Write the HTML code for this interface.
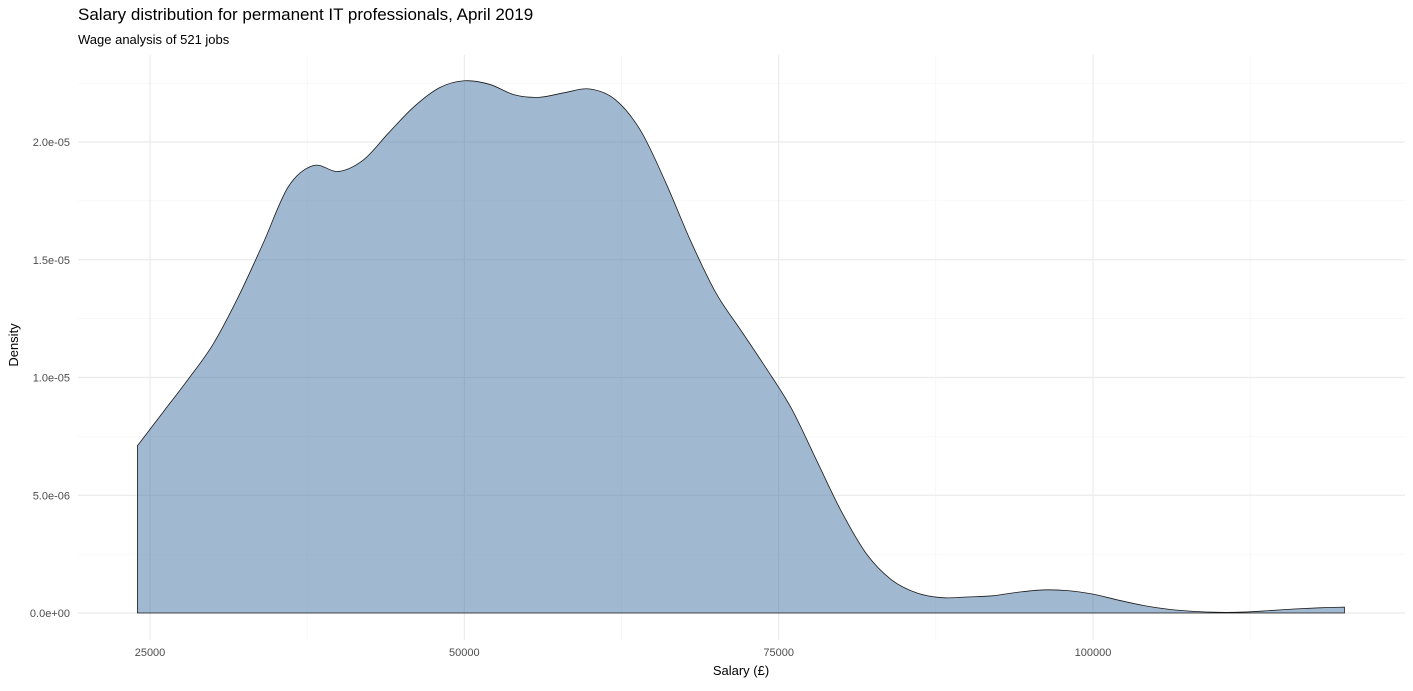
<!DOCTYPE html>
<html><head><meta charset="utf-8"><style>
body{margin:0;background:#fff;font-family:"Liberation Sans",sans-serif}
svg text{font-family:"Liberation Sans",sans-serif}
</style></head><body>
<svg id="chart" width="1413" height="686" viewBox="0 0 1413 686">
<rect width="1413" height="686" fill="#fff"/>
<text x="78" y="20" font-size="17" fill="#000">Salary distribution for permanent IT professionals, April 2019</text>
<text x="78" y="44" font-size="13" fill="#000">Wage analysis of 521 jobs</text>
<g id="grid"></g>
<g id="marks"></g>
<g id="axes"></g>
<text x="741" y="675" font-size="13" text-anchor="middle">Salary (£)</text>
<text transform="translate(18,345) rotate(-90)" font-size="13" text-anchor="middle">Density</text>
</svg>
<script>
const salaries=[24000,26000,28000,30000,32000,34000,36000,38000,40000,42000,44000,46000,48000,50000,52000,54000,56000,58000,60000,62000,64000,66000,68000,70000,72000,74000,76000,78000,80000,82000,84000,86000,88000,90000,92000,94000,96000,98000,100000,102000,104000,106000,108000,110000,112000,114000,116000,118000,120000];
const density=[0.71,0.85,0.99,1.14,1.34,1.57,1.81,1.90,1.875,1.925,2.04,2.15,2.23,2.26,2.245,2.20,2.19,2.21,2.225,2.18,2.05,1.83,1.58,1.36,1.20,1.04,0.87,0.65,0.43,0.25,0.14,0.085,0.065,0.068,0.073,0.088,0.098,0.095,0.08,0.055,0.032,0.016,0.007,0.003,0.004,0.01,0.017,0.022,0.025];
const xTicks=[25000,50000,75000,100000];
const xMinor=[37500,62500,87500,112500];
const yTicks=[0,0.5,1.0,1.5,2.0];
const yTickLabels=["0.0e+00","5.0e-06","1.0e-05","1.5e-05","2.0e-05"];
const yMinor=[0.25,0.75,1.25,1.75,2.25];
const xs=v=>150+(v-25000)/25000*314.33;
const ys=v=>613-v*235.5;
const NS="http://www.w3.org/2000/svg";
function mk(tag,attrs,parent){const e=document.createElementNS(NS,tag);for(const k in attrs)e.setAttribute(k,attrs[k]);parent.appendChild(e);return e;}
const grid=document.getElementById('grid'),marks=document.getElementById('marks'),axes=document.getElementById('axes');
yMinor.forEach(v=>{const l=mk('line',{x1:78,x2:1405,y1:ys(v),y2:ys(v),stroke:'#f2f2f2','stroke-width':0.6},grid);

});
xMinor.forEach(v=>{const l=mk('line',{x1:xs(v),x2:xs(v),y1:55,y2:640,stroke:'#f2f2f2','stroke-width':0.6},grid);

});
yTicks.forEach((v,i)=>{const l=mk('line',{x1:78,x2:1405,y1:ys(v),y2:ys(v),stroke:'#ebebeb','stroke-width':1.2},grid);


const t=mk('text',{x:70,y:ys(v)+4,'font-size':11,fill:'#4d4d4d','text-anchor':'end'},axes);t.textContent=yTickLabels[i];

});
xTicks.forEach(v=>{const l=mk('line',{x1:xs(v),x2:xs(v),y1:55,y2:640,stroke:'#ebebeb','stroke-width':1.2},grid);


const t=mk('text',{x:xs(v),y:656,'font-size':11,fill:'#4d4d4d','text-anchor':'middle'},axes);t.textContent=v;

});
const P=salaries.map((s,i)=>[xs(s),ys(density[i])]);
let d=`M${P[0][0]},${ys(0)} L${P[0][0]},${P[0][1]}`;
for(let i=0;i<P.length-1;i++){const p0=P[Math.max(0,i-1)],p1=P[i],p2=P[i+1],p3=P[Math.min(P.length-1,i+2)];
d+=` C${p1[0]+(p2[0]-p0[0])/6},${p1[1]+(p2[1]-p0[1])/6} ${p2[0]-(p3[0]-p1[0])/6},${p2[1]-(p3[1]-p1[1])/6} ${p2[0]},${p2[1]}`;}
d+=` L${P[P.length-1][0]},${ys(0)} Z`;
const area=mk('path',{d:d,fill:'rgba(67,113,164,0.5)',stroke:'#1a1a1a','stroke-width':0.8},marks);


</script>
</body></html>
